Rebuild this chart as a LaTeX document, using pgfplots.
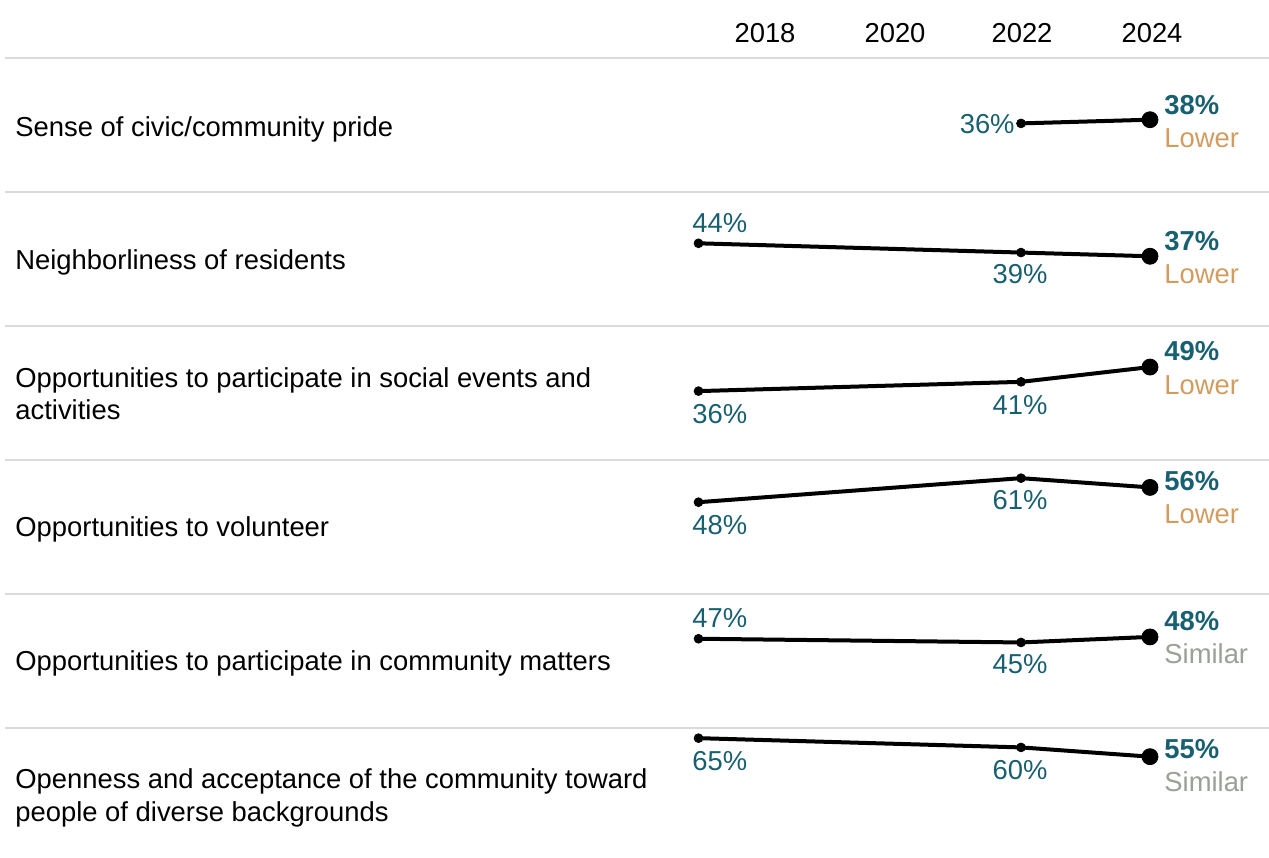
\documentclass[border=0pt]{standalone}
\usepackage{pgfplots}
\pgfplotsset{compat=1.18}
\usepackage{fontspec}
\setmainfont{Liberation Sans}

\definecolor{valteal}{RGB}{24,96,113}
\definecolor{lowertan}{RGB}{210,156,94}
\definecolor{similargray}{RGB}{150,162,148}
\definecolor{rulegray}{RGB}{218,218,218}

% one small hidden axis per row; 1px of the reference = 0.5pt
\pgfplotsset{
  rowax/.style={scale only axis, width=225.75pt, height=64.75pt,
    xmin=2017, xmax=2024, ymin=0, ymax=70, hide axis, clip=false,
    anchor=south west,
    x filter/.expression={x==2018 ? 2017 : x}},
  trend/.style={black, line width=2pt, mark=*, mark size=2.2pt,
    mark options={line width=0.4pt}},
  last/.style={black, only marks, mark=*, mark size=4pt}
}

\begin{document}
\begin{tikzpicture}[font=\fontsize{13.7}{16}\selectfont]

\begin{axis}[rowax, at={(349.25pt,-95pt)}]
\addplot[trend] coordinates {(2022,36) (2024,38)};
\addplot[last] coordinates {(2024,38)};
\end{axis}

\begin{axis}[rowax, at={(349.25pt,-162.35pt)}]
\addplot[trend] coordinates {(2018,44) (2022,39) (2024,37)};
\addplot[last] coordinates {(2024,37)};
\end{axis}

\begin{axis}[rowax, at={(349.25pt,-228.85pt)}]
\addplot[trend] coordinates {(2018,36) (2022,41) (2024,49)};
\addplot[last] coordinates {(2024,49)};
\end{axis}

\begin{axis}[rowax, at={(349.25pt,-295.5pt)}]
\addplot[trend] coordinates {(2018,48) (2022,61) (2024,56)};
\addplot[last] coordinates {(2024,56)};
\end{axis}

\begin{axis}[rowax, at={(349.25pt,-362.85pt)}]
\addplot[trend] coordinates {(2018,47) (2022,45) (2024,48)};
\addplot[last] coordinates {(2024,48)};
\end{axis}

\begin{axis}[rowax, at={(349.25pt,-429.2pt)}]
\addplot[trend] coordinates {(2018,65) (2022,60) (2024,55)};
\addplot[last] coordinates {(2024,55)};
\end{axis}

\begin{scope}[x=0.5pt, y=-0.5pt]
% header and row rules
\foreach \xx/\yr in {765/2018, 895/2020, 1022/2022, 1152/2024}
  \node[anchor=base, inner sep=0pt] at (\xx,42) {\yr};
\foreach \yy in {58,192,326,460,594,728}
  \draw[rulegray, line width=1pt] (5,\yy) -- (1269,\yy);

% row labels
\begin{scope}[every node/.style={anchor=base west, inner sep=0pt}]
\node at (15,136) {Sense of civic/community pride};
\node at (15,269) {Neighborliness of residents};
\node at (15,387) {Opportunities to participate in social events and};
\node at (15,419) {activities};
\node at (15,536) {Opportunities to volunteer};
\node at (15,670) {Opportunities to participate in community matters};
\node at (15,788) {Openness and acceptance of the community toward};
\node at (15,821) {people of diverse backgrounds};
\end{scope}

% values for earlier years
\begin{scope}[every node/.style={inner sep=0pt, text=valteal}]
\node[anchor=base east] at (1015,133) {36\%};
\node[anchor=base west] at (692,232) {44\%};
\node[anchor=base] at (1020,283) {39\%};
\node[anchor=base west] at (692,423) {36\%};
\node[anchor=base] at (1020,414) {41\%};
\node[anchor=base west] at (692,534) {48\%};
\node[anchor=base] at (1020,509) {61\%};
\node[anchor=base west] at (692,627) {47\%};
\node[anchor=base] at (1020,673) {45\%};
\node[anchor=base west] at (692,770) {65\%};
\node[anchor=base] at (1020,779) {60\%};
\end{scope}

% 2024 values and comparison
\begin{scope}[every node/.style={inner sep=0pt, anchor=base west}]
\foreach \v/\ya/\yb/\cmp/\col in {38/114/147/Lower/lowertan,
    37/250/283/Lower/lowertan, 49/360/394/Lower/lowertan,
    56/490/523/Lower/lowertan, 48/630/663/Similar/similargray,
    55/758/791/Similar/similargray}{
  \node[text=valteal, font=\fontsize{13.7}{16}\selectfont\bfseries] at (1164,\ya) {\v\%};
  \node[text=\col] at (1164,\yb) {\cmp};
}
\end{scope}
\end{scope}

\pgfresetboundingbox
\path[x=0.5pt, y=-0.5pt] (0,0) rectangle (1269,857);
\end{tikzpicture}
\end{document}
